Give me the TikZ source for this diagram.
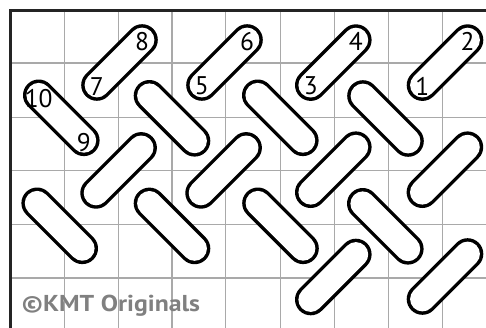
\documentclass[tikz,border=0pt]{standalone}
\usepackage{graphicx}
\usepackage{fontspec}
\setmainfont{PT Sans}
\definecolor{gridgray}{HTML}{A9A9A9}
\definecolor{framegray}{HTML}{242424}
\definecolor{markgray}{HTML}{808080}
\tikzset{
  gridline/.style={draw=gridgray, line width=1.4pt},
  frameline/.style={draw=framegray, line width=3.4pt},
  pillout/.style={draw=black, line width=31.4pt, line cap=round},
  pillin/.style={draw=white, line width=24.6pt, line cap=round},
  numlabel/.style={inner sep=0pt, font=\fontsize{25.5}{25.5}\selectfont, text=black},
  watermark/.style={inner sep=0pt, anchor=base west, font=\fontsize{23}{23}\selectfont\bfseries, text=markgray}
}
\begin{document}
\begin{tikzpicture}[x=1pt,y=-1pt]
  \clip (0,0) rectangle (486,327);
  \fill[white] (0,0) rectangle (486,327);
  % grid
  \foreach \gx in {64.3,118.2,172,225.5,280.6,334.6,388.6,442.3}
    \draw[gridline] (\gx,10) -- (\gx,330);
  \foreach \gy in {63,117.3,170.6,224.2,278}
    \draw[gridline] (10,\gy) -- (490,\gy);
  % frame
  \draw[frameline] (10.7,330) -- (10.7,10.7) -- (490,10.7);
  % pills rising to the right ("/")
  \def\d{22.6}
  \foreach \n/\cx/\cy in {a1/119.5/62.5, a2/224.5/62.5, a3/333.3/62.6, a4/445/62.6,
                          c1/118.6/170.4, c2/223.6/170.4, c3/333.3/169.7, c4/444.9/169.7,
                          e1/333.3/277, e2/445/276.5} {
    \coordinate (\n-lo) at ({\cx-\d},{\cy+\d});
    \coordinate (\n-hi) at ({\cx+\d},{\cy-\d});
    \draw[pillout] (\n-lo) -- (\n-hi);
    \draw[pillin] (\n-lo) -- (\n-hi);
  }
  % pills falling to the right ("\")
  \foreach \n/\cx/\cy in {b1/61.3/117.8, b2/172/118.3, b3/280.3/117.8, b4/385.5/118.5,
                          d1/59.7/225.8, d2/172/225.9, d3/280.5/225.8, d4/385.3/226.3} {
    \coordinate (\n-lo) at ({\cx-\d},{\cy-\d});
    \coordinate (\n-hi) at ({\cx+\d},{\cy+\d});
    \draw[pillout] (\n-lo) -- (\n-hi);
    \draw[pillin] (\n-lo) -- (\n-hi);
  }
  % numbers
  \node[numlabel] (n7)  at ([yshift=-1pt]a1-lo) {7};
  \node[numlabel] (n8)  at ([yshift=-1.5pt]a1-hi) {8};
  \node[numlabel] (n5)  at ([yshift=-1pt]a2-lo) {5};
  \node[numlabel] (n6)  at ([yshift=-1.5pt]a2-hi) {6};
  \node[numlabel] (n3)  at ([yshift=-1pt]a3-lo) {3};
  \node[numlabel] (n4)  at ([yshift=-1.5pt]a3-hi) {4};
  \node[numlabel] (n1)  at ([yshift=-1pt]a4-lo) {1};
  \node[numlabel] (n2)  at ([yshift=-1.5pt]a4-hi) {2};
  \node[numlabel] (n10) at ([yshift=-3pt]b1-lo) {10};
  \node[numlabel] (n9)  at ([yshift=-2pt]b1-hi) {9};
  % watermark
  \node[watermark] (wm) at (21.5,311.5) {\scalebox{1.12}[1]{©KMT Originals}};
\end{tikzpicture}
\end{document}
